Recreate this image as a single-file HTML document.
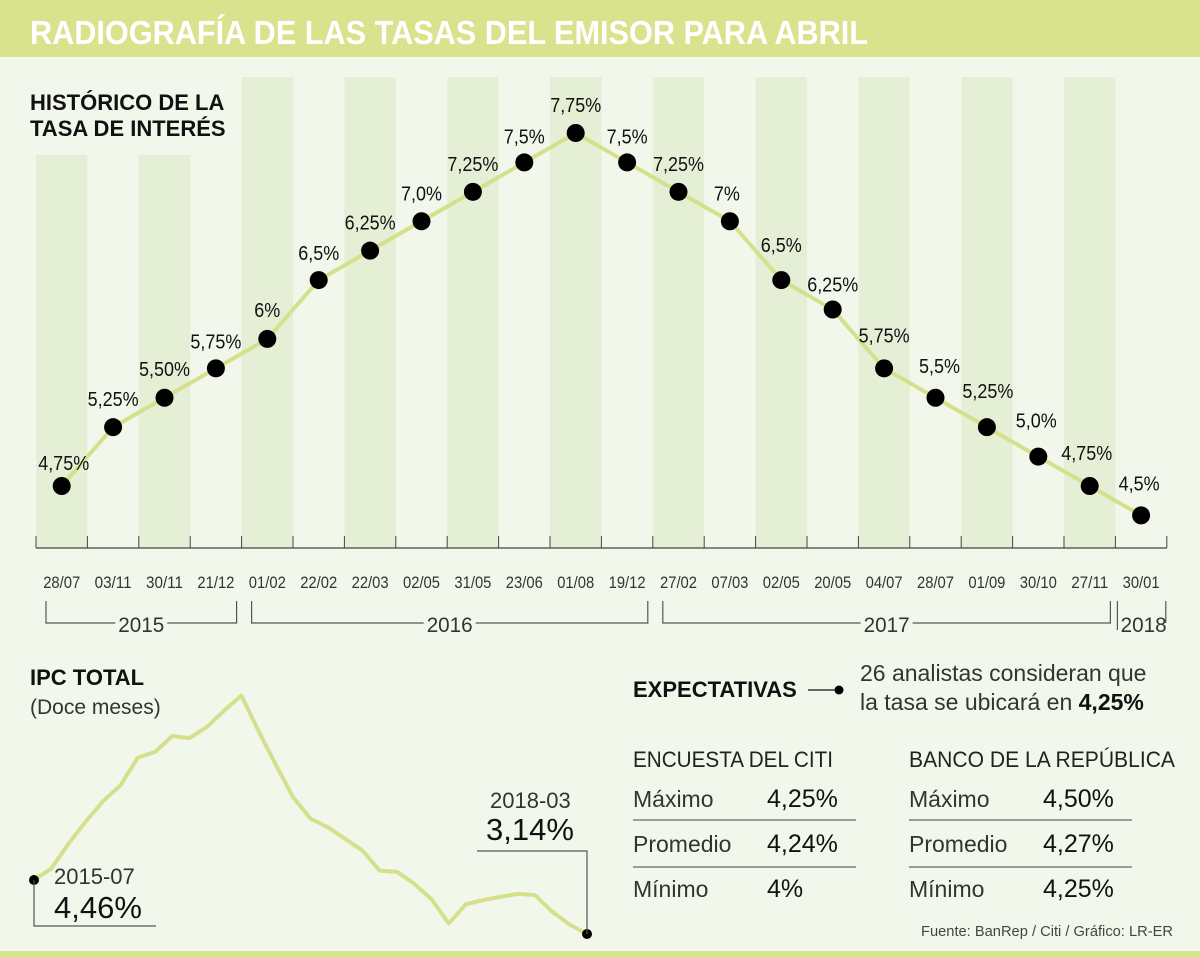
<!DOCTYPE html>
<html><head><meta charset="utf-8"><style>
html,body{margin:0;padding:0;background:#f2f7eb;}
svg{display:block;font-family:"Liberation Sans Narrow","Liberation Sans",sans-serif;}
</style></head><body>
<svg width="1200" height="958" viewBox="0 0 1200 958">
<rect x="0" y="0" width="1200" height="958" fill="#f2f7eb"/>
<rect x="0" y="0" width="1200" height="57" fill="#d9e28d"/>
<text x="30" y="44" font-size="33" font-weight="bold" fill="#fff" font-family="Liberation Sans" textLength="838" lengthAdjust="spacingAndGlyphs">RADIOGRAFÍA DE LAS TASAS DEL EMISOR PARA ABRIL</text>
<g id="stripes"></g>
<text x="30" y="110" font-size="22" font-weight="bold" fill="#111">HISTÓRICO DE LA</text>
<text x="30" y="136" font-size="22" font-weight="bold" fill="#111">TASA DE INTERÉS</text>
<g id="rate"></g>
<g id="ipc"></g>
<text x="30" y="685" font-size="22" font-weight="bold" fill="#111">IPC TOTAL</text>
<text x="30" y="714" font-size="21" fill="#333">(Doce meses)</text>
<text x="54" y="884" font-size="22" fill="#333">2015-07</text>
<text x="54" y="918" font-size="31" fill="#111">4,46%</text>
<polyline points="34,880 34,926 156,926" fill="none" stroke="#555" stroke-width="1.2"/>
<text x="490" y="808" font-size="22" fill="#333">2018-03</text>
<text x="486" y="840" font-size="31" fill="#111">3,14%</text>
<polyline points="477,851 587,851 587,934" fill="none" stroke="#555" stroke-width="1.2"/>

<text x="633" y="697" font-size="22" font-weight="bold" fill="#111">EXPECTATIVAS</text>
<line x1="808" y1="690" x2="838" y2="690" stroke="#111" stroke-width="1.2"/>
<circle cx="839" cy="690" r="4.5" fill="#000"/>
<text x="860" y="681" font-size="23" fill="#333">26 analistas consideran que</text>
<text x="860" y="710" font-size="23" fill="#333">la tasa se ubicará en <tspan font-weight="bold" fill="#111">4,25%</tspan></text>

<g>
<text x="633" y="767" font-size="22" fill="#222" textLength="200" lengthAdjust="spacingAndGlyphs">ENCUESTA DEL CITI</text>
<text x="633" y="807" font-size="23" fill="#333">Máximo</text>
<text x="767" y="807" font-size="25" fill="#111">4,25%</text>
<line x1="633" y1="820" x2="856" y2="820" stroke="#444" stroke-width="1"/>
<text x="633" y="852" font-size="23" fill="#333">Promedio</text>
<text x="767" y="852" font-size="25" fill="#111">4,24%</text>
<line x1="633" y1="867" x2="856" y2="867" stroke="#444" stroke-width="1"/>
<text x="633" y="897" font-size="23" fill="#333">Mínimo</text>
<text x="767" y="897" font-size="25" fill="#111">4%</text>
</g>
<g>
<text x="909" y="767" font-size="22" fill="#222" textLength="266" lengthAdjust="spacingAndGlyphs">BANCO DE LA REPÚBLICA</text>
<text x="909" y="807" font-size="23" fill="#333">Máximo</text>
<text x="1043" y="807" font-size="25" fill="#111">4,50%</text>
<line x1="909" y1="820" x2="1132" y2="820" stroke="#444" stroke-width="1"/>
<text x="909" y="852" font-size="23" fill="#333">Promedio</text>
<text x="1043" y="852" font-size="25" fill="#111">4,27%</text>
<line x1="909" y1="867" x2="1132" y2="867" stroke="#444" stroke-width="1"/>
<text x="909" y="897" font-size="23" fill="#333">Mínimo</text>
<text x="1043" y="897" font-size="25" fill="#111">4,25%</text>
</g>
<text x="1173" y="936" font-size="15" fill="#444" text-anchor="end" textLength="252" lengthAdjust="spacingAndGlyphs">Fuente: BanRep / Citi / Gráfico: LR-ER</text>
<rect x="0" y="951" width="1200" height="7" fill="#d9e28d"/>
</svg>
<script>
const rateDates = ["28/07","03/11","30/11","21/12","01/02","22/02","22/03","02/05","31/05","23/06","01/08","19/12","27/02","07/03","02/05","20/05","04/07","28/07","01/09","30/10","27/11","30/01"];
const rateValues = [4.75,5.25,5.5,5.75,6,6.5,6.75,7,7.25,7.5,7.75,7.5,7.25,7,6.5,6.25,5.75,5.5,5.25,5,4.75,4.5];
const rateLabels = ["4,75%","5,25%","5,50%","5,75%","6%","6,5%","6,25%","7,0%","7,25%","7,5%","7,75%","7,5%","7,25%","7%","6,5%","6,25%","5,75%","5,5%","5,25%","5,0%","4,75%","4,5%"];
const years = [{label:"2015",from:0,to:3},{label:"2016",from:4,to:11},{label:"2017",from:12,to:20},{label:"2018",from:21,to:21}];
const ipcValues = [4.46,4.74,5.35,5.89,6.39,6.77,7.45,7.59,7.98,7.93,8.20,8.60,8.97,8.10,7.27,6.48,5.96,5.75,5.47,5.18,4.69,4.66,4.37,3.99,3.40,3.87,3.97,4.05,4.12,4.09,3.68,3.37,3.14];

const NS="http://www.w3.org/2000/svg";
function mk(tag,attrs,parent){const e=document.createElementNS(NS,tag);for(const k in attrs)e.setAttribute(k,attrs[k]);parent.appendChild(e);return e;}
const colW=51.4, x0=36;
const rx=i=>x0+colW*(i+0.5);
const ry=v=>486-(v-4.75)*(353/3);
const stripes=document.getElementById('stripes');
for(let i=0;i<rateDates.length;i+=2){
  const top=i<4?155:77;
  const r=mk('rect',{x:x0+colW*i,y:top,width:colW,height:548-top,fill:'#e5efd6'},stripes);
  
  
}
const g=document.getElementById('rate');
const ax=mk('line',{x1:x0,y1:548,x2:x0+colW*rateDates.length,y2:548,stroke:'#444','stroke-width':1.2},g);


for(let i=0;i<=rateDates.length;i++){
  const t=mk('line',{x1:x0+colW*i,y1:536,x2:x0+colW*i,y2:548,stroke:'#444','stroke-width':1},g);
  
  
}
rateDates.forEach((d,i)=>{
  const t=mk('text',{x:rx(i),y:588,'font-size':17,fill:'#333','text-anchor':'middle',textLength:37,lengthAdjust:'spacingAndGlyphs'},g);
  t.textContent=d;
  
  
});
years.forEach(y=>{
  const a=x0+colW*y.from+10, b=x0+colW*(y.to+1)-5, c=(a+b)/2;
  const half=26;
  let d;
  if(b-a<120){d=`M${a-8},601 V630 M${b+4},601 V623`;}
  else d=`M${a},601 V623 H${c-half} M${c+half},623 H${b} V601`;
  const p=mk('path',{d:d,fill:'none',stroke:'#555','stroke-width':1.2},g);
  
  
  const t=mk('text',{x:c,y:632,'font-size':21,fill:'#333','text-anchor':'middle',textLength:46,lengthAdjust:'spacingAndGlyphs'},g);
  t.textContent=y.label;
  
  
});
const ln=mk('polyline',{points:rateValues.map((v,i)=>rx(i)+','+ry(v)).join(' '),fill:'none',stroke:'#d6e08c','stroke-width':4},g);


const offDx=[2,0,0,0,0,0,0,0,0,0,0,0,0,-3,0,0,0,4,1,-2,-3,-2];
const offDy=[-16,-21,-22,-20,-22,-20,-21,-21,-21,-19,-21,-19,-21,-21,-28,-18,-26,-25,-29,-29,-26,-25];
rateValues.forEach((v,i)=>{
  const c=mk('circle',{cx:rx(i),cy:ry(v),r:9,fill:'#000'},g);
  
  
  const t=mk('text',{x:rx(i)+offDx[i],y:ry(v)+offDy[i],'font-size':20,fill:'#111','text-anchor':'middle'},g);
  t.textContent=rateLabels[i];
  
  
  t.setAttribute('textLength', String(Math.round(t.getComputedTextLength()*0.9)));
  t.setAttribute('lengthAdjust','spacingAndGlyphs');
});
const ig=document.getElementById('ipc');
const ix=i=>34+i*(553/(ipcValues.length-1));
const iy=v=>880-(v-4.46)*40.9;
const il=mk('polyline',{points:ipcValues.map((v,i)=>ix(i)+','+iy(v)).join(' '),fill:'none',stroke:'#d6e08c','stroke-width':4,'stroke-linejoin':'round'},ig);


[0,ipcValues.length-1].forEach(i=>{
  const c=mk('circle',{cx:ix(i),cy:iy(ipcValues[i]),r:5,fill:'#000'},ig);
  
  
});
</script>
</body></html>
